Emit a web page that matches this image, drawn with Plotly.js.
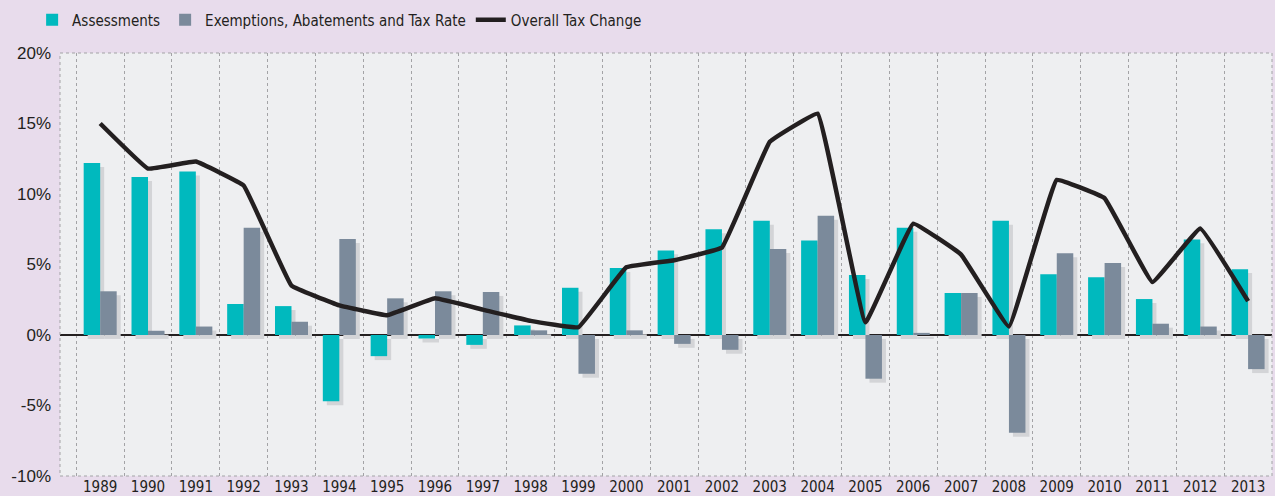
<!DOCTYPE html>
<html>
<head>
<meta charset="utf-8">
<script src="https://cdn.plot.ly/plotly-3.0.1.min.js"></script>
<style>html,body{margin:0;padding:0;background:#E8DCEC;}#chart{width:1275px;height:496px;}</style>
</head>
<body>
<div id="chart"></div>
<script>
const years = ["1989","1990","1991","1992","1993","1994","1995","1996","1997","1998","1999","2000","2001","2002","2003","2004","2005","2006","2007","2008","2009","2010","2011","2012","2013"];
const assessments = [12.2, 11.2, 11.6, 2.2, 2.05, -4.7, -1.5, -0.25, -0.7, 0.68, 3.35, 4.75, 6.0, 7.5, 8.1, 6.7, 4.25, 7.6, 2.98, 8.1, 4.3, 4.1, 2.55, 6.78, 4.67];
const exemptions = [3.1, 0.3, 0.6, 7.6, 0.94, 6.8, 2.6, 3.1, 3.05, 0.33, -2.75, 0.33, -0.63, -1.05, 6.1, 8.45, -3.1, 0.15, 2.98, -6.93, 5.8, 5.1, 0.8, 0.6, -2.42];
const overall = [15.0, 11.8, 12.3, 10.6, 3.5, 2.1, 1.4, 2.6, 1.8, 1.0, 0.55, 4.8, 5.3, 6.2, 13.7, 15.7, 0.9, 7.9, 5.7, 0.6, 11.0, 9.7, 3.75, 7.55, 2.4];
const yTicks = [-10, -5, 0, 5, 10, 15, 20];
const yTickText = ["-10%", "-5%", "0%", "5%", "10%", "15%", "20%"];

const TEAL = '#00B9BE', GRAY = '#7B8A9B', SHADOW = '#D3D4D7', DARK = '#231F20';
const narrow = '"Liberation Sans Narrow", "DejaVu Sans Condensed", "Liberation Sans", sans-serif';
const regular = '"Liberation Sans", Arial, sans-serif';

const xr = [-0.84, 24.5];
const yr = [-10, 20];
const dx = 0.084, dy = 0.28;

const traces = [
  {type:'bar', x:years, y:assessments, xaxis:'x', yaxis:'y', marker:{color:SHADOW}, showlegend:false, hoverinfo:'skip'},
  {type:'bar', x:years, y:exemptions, xaxis:'x', yaxis:'y', marker:{color:SHADOW}, showlegend:false, hoverinfo:'skip'},
  {type:'bar', name:'Assessments', x:years, y:assessments, xaxis:'x2', yaxis:'y2', marker:{color:TEAL}},
  {type:'bar', name:'Exemptions, Abatements and Tax Rate', x:years, y:exemptions, xaxis:'x2', yaxis:'y2', marker:{color:GRAY}},
  {type:'scatter', mode:'lines', name:'Overall Tax Change', x:years, y:overall, xaxis:'x2', yaxis:'y2',
   line:{color:DARK, width:4.5, shape:'spline', smoothing:0.2}}
];

const layout = {
  width:1275, height:496,
  margin:{l:60, r:3, t:53, b:20},
  paper_bgcolor:'#E8DCEC',
  plot_bgcolor:'#EEEFF1',
  barmode:'group', bargap:0.31, bargroupgap:0,
  showlegend:true,
  legend:{orientation:'h', x:-0.023, xanchor:'left', y:1.078, yanchor:'middle',
          font:{family:narrow, size:15, color:DARK}, bgcolor:'rgba(0,0,0,0)', traceorder:'normal'},
  xaxis:{type:'category', range:[xr[0]-dx, xr[1]-dx], showgrid:false, showticklabels:false, zeroline:false, showline:false, fixedrange:true},
  yaxis:{range:[yr[0]+dy, yr[1]+dy], showgrid:false, showticklabels:false, zeroline:false, showline:false, fixedrange:true},
  xaxis2:{type:'category', overlaying:'x', anchor:'y2', side:'bottom', range:xr,
          tickson:'boundaries', showgrid:true, gridcolor:'#A3A3A6', griddash:'dot', gridwidth:1,
          ticks:'', showline:false, zeroline:false, ticklabelstandoff:0,
          tickfont:{family:narrow, size:15, color:DARK}},
  yaxis2:{overlaying:'y', anchor:'x2', side:'left', range:yr, tickvals:yTicks, ticktext:yTickText,
          showgrid:false, zeroline:true, zerolinecolor:DARK, zerolinewidth:2, ticks:'', ticklabelstandoff:8,
          tickfont:{family:regular, size:17, color:DARK}},
  shapes:[{type:'rect', xref:'paper', yref:'paper', x0:0, x1:1, y0:0, y1:1,
           line:{color:'#A3A3A6', width:1, dash:'dot'}, fillcolor:'rgba(0,0,0,0)', layer:'above'}]
};

Plotly.newPlot('chart', traces, layout, {displayModeBar:false, staticPlot:true});
</script>
</body>
</html>
